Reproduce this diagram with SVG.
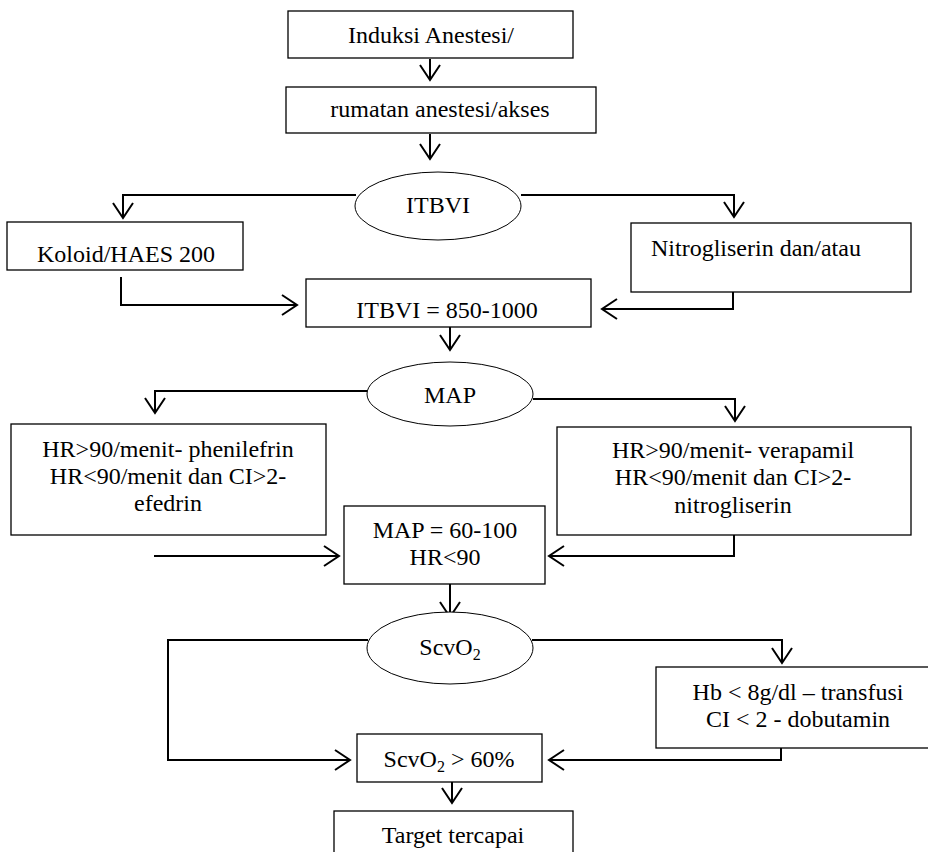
<svg xmlns="http://www.w3.org/2000/svg" width="928" height="852" viewBox="0 0 928 852">
<style>
.box{fill:#fff;stroke:#000;stroke-width:1.3}
.ell{fill:#fff;stroke:#000;stroke-width:1}
.t{font-family:"Liberation Serif","Times New Roman",serif;font-size:24px;fill:#000}
.c{text-anchor:middle}
.con{fill:none;stroke:#000;stroke-width:2}
</style>
<defs>
<marker id="ah" markerUnits="userSpaceOnUse" markerWidth="30" markerHeight="30" refX="0" refY="0" viewBox="-20 -15 25 30" orient="auto">
<path d="M-15,-10 L0,0 L-15,10" fill="none" stroke="#000" stroke-width="2"/>
</marker>
</defs>
<g id="connectors">
<path class="con" d="M430,59 V80" marker-end="url(#ah)"/>
<path class="con" d="M430,134 V159" marker-end="url(#ah)"/>
<path class="con" d="M356,195 H123 V218" marker-end="url(#ah)"/>
<path class="con" d="M521,195 H734 V217" marker-end="url(#ah)"/>
<path class="con" d="M121,277 V305 H297" marker-end="url(#ah)"/>
<path class="con" d="M733,278 V309 H602" marker-end="url(#ah)"/>
<path class="con" d="M450,327 V350" marker-end="url(#ah)"/>
<path class="con" d="M368,391 H155 V413" marker-end="url(#ah)"/>
<path class="con" d="M533,399 H735 V421" marker-end="url(#ah)"/>
<path class="con" d="M154,556 H339" marker-end="url(#ah)"/>
<path class="con" d="M734,535 V556 H549" marker-end="url(#ah)"/>
<path class="con" d="M450,584 V617" marker-end="url(#ah)"/>
<path class="con" d="M368,640 H168 V760 H350" marker-end="url(#ah)"/>
<path class="con" d="M532,640 H782 V663" marker-end="url(#ah)"/>
<path class="con" d="M781,735 V760 H549" marker-end="url(#ah)"/>
<path class="con" d="M452,782 V803" marker-end="url(#ah)"/>
</g>
<g id="induksi">
<rect class="box" x="288" y="11" width="285" height="47"/>
<text class="t c" x="431" y="43">Induksi Anestesi/</text>
</g>
<g id="rumatan">
<rect class="box" x="286" y="87" width="310" height="46"/>
<text class="t c" x="440" y="117">rumatan anestesi/akses</text>
</g>
<g id="itbvi">
<ellipse class="ell" cx="438" cy="206" rx="83" ry="34"/>
<text class="t c" x="438" y="213">ITBVI</text>
</g>
<g id="koloid">
<rect class="box" x="7" y="222" width="236" height="48"/>
<text class="t" x="37" y="262">Koloid/HAES 200</text>
</g>
<g id="nitrogliserin">
<rect class="box" x="631" y="223" width="280" height="69"/>
<text class="t" x="651" y="256">Nitrogliserin dan/atau</text>
</g>
<g id="itbvi-target">
<rect class="box" x="306" y="279" width="285" height="48"/>
<text class="t c" x="447" y="318">ITBVI = 850-1000</text>
</g>
<g id="map">
<ellipse class="ell" cx="450" cy="394" rx="83" ry="32"/>
<text class="t c" x="450" y="403">MAP</text>
</g>
<g id="hr-left">
<rect class="box" x="11" y="424" width="315" height="111"/>
<text class="t c" x="168" y="457">HR&gt;90/menit- phenilefrin</text>
<text class="t c" x="168" y="484">HR&lt;90/menit dan CI&gt;2-</text>
<text class="t c" x="168" y="511">efedrin</text>
</g>
<g id="hr-right">
<rect class="box" x="557" y="427" width="354" height="108"/>
<text class="t c" x="733" y="458">HR&gt;90/menit- verapamil</text>
<text class="t c" x="733" y="485">HR&lt;90/menit dan CI&gt;2-</text>
<text class="t c" x="733" y="513">nitrogliserin</text>
</g>
<g id="map-target">
<rect class="box" x="344" y="506" width="201" height="78"/>
<text class="t c" x="445" y="538">MAP = 60-100</text>
<text class="t c" x="445" y="565">HR&lt;90</text>
</g>
<g id="scvo2">
<ellipse class="ell" cx="450" cy="648" rx="83" ry="36"/>
<text class="t c" x="450" y="655">ScvO<tspan font-size="16" dy="5">2</tspan></text>
</g>
<g id="hb">
<rect class="box" x="656" y="667" width="280" height="81"/>
<text class="t c" x="798" y="700">Hb &lt; 8g/dl – transfusi</text>
<text class="t c" x="798" y="727">CI &lt; 2 - dobutamin</text>
</g>
<g id="scvo2-target">
<rect class="box" x="357" y="734" width="185" height="48"/>
<text class="t c" x="449" y="767">ScvO<tspan font-size="16" dy="5">2</tspan><tspan dy="-5"> &gt; 60%</tspan></text>
</g>
<g id="target">
<rect class="box" x="334" y="811" width="239" height="60"/>
<text class="t c" x="453" y="843">Target tercapai</text>
</g>
</svg>
